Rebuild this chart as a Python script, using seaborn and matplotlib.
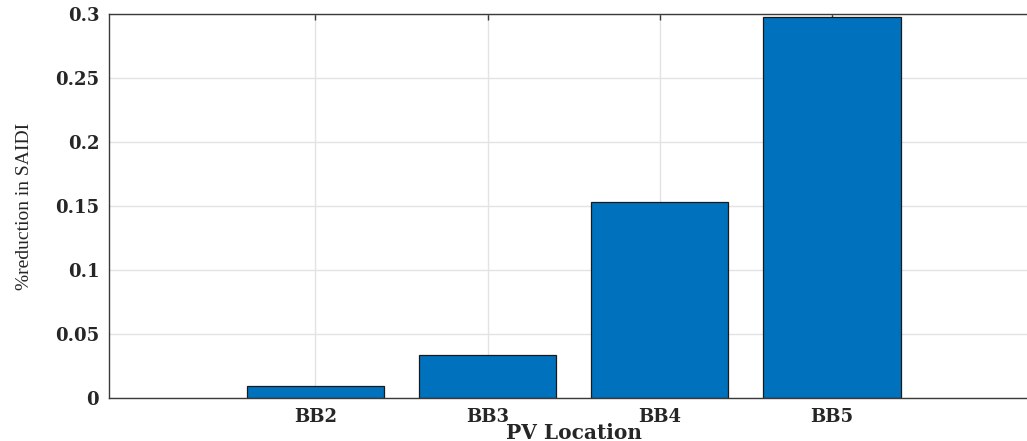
import matplotlib
matplotlib.use("Agg")
import matplotlib.pyplot as plt
import seaborn as sns
import pandas as pd
import numpy as np

# data
locations = ["BB2", "BB3", "BB4", "BB5"]
saidi_reduction = [0.009, 0.0332, 0.1533, 0.2973]
y_ticks = [0, 0.05, 0.1, 0.15, 0.2, 0.25, 0.3]

df = pd.DataFrame({"location": locations, "reduction": saidi_reduction})

sns.set_style("white")
plt.rcParams["font.family"] = ["DejaVu Serif"]

fig = plt.figure(figsize=(10.27, 4.41), dpi=100)
ax = fig.add_axes([0.106, 0.0975, 0.905, 0.871])

sns.barplot(data=df, x="location", y="reduction", color="#0072BD",
            saturation=1, width=0.8, edgecolor="#1a1a1a", linewidth=0.9, ax=ax)

ax.set_xlim(-1.2, 4.2)
ax.set_ylim(0, 0.3)
ax.set_yticks(y_ticks)
ax.set_yticklabels([f"{v:g}" for v in y_ticks])

ax.set_axisbelow(True)
ax.grid(True, color="#e3e3e3", linewidth=1)

for s in ax.spines.values():
    s.set_color("#3a3a3a")
    s.set_linewidth(1)

ax.tick_params(direction="in", length=4, width=1, color="#3a3a3a",
               top=True, right=True, pad=7)
for lab in ax.get_xticklabels() + ax.get_yticklabels():
    lab.set_fontweight("bold")
    lab.set_fontsize(13)
    lab.set_color("#262626")

ax.set_xlabel("PV Location", fontsize=14.5, fontweight="bold", color="#262626",
              labelpad=-2)
ax.set_ylabel("%reduction in SAIDI", fontsize=14, family="Liberation Serif",
              color="#262626", labelpad=16)

fig.savefig("out.png", dpi=100)
